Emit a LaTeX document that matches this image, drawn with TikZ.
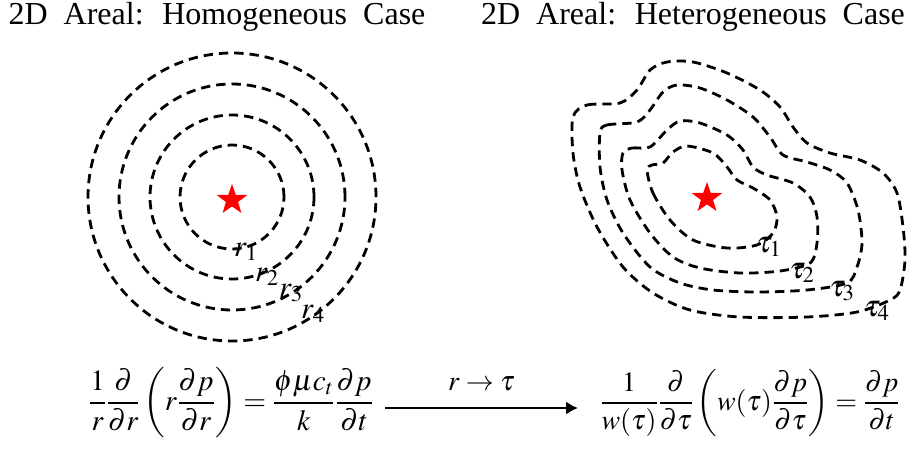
\documentclass[tikz,border=0pt]{standalone}
\usepackage{mathptmx}
\usepackage{fontspec}
\setmainfont{Liberation Serif}
\usetikzlibrary{arrows.meta, shapes.geometric}

\newcommand{\ttlfont}{\fontsize{24}{28}\selectfont\spaceskip=0.5em\relax}
\tikzset{
  contour/.style={dash pattern=on 7pt off 4.5pt, line width=2.1pt},
  src/.style={star, star points=5, star point ratio=2.5, fill=red, inner sep=0pt, minimum size=24pt},
  lbl/.style={font=\fontsize{23}{26}\selectfont, inner sep=0pt},
  ttl/.style={font=\ttlfont, inner sep=0pt},
  eqn/.style={font=\fontsize{21}{25}\selectfont, inner sep=0pt}
}

\begin{document}
\begin{tikzpicture}[x=0.75pt, y=-0.75pt]
  \useasboundingbox (0,0) rectangle (912,450);

  % titles
  \node[ttl] (titleL) at (217,17) {2D Areal: Homogeneous Case};
  \node[ttl] (titleR) at (693,17) {2D Areal: Heterogeneous Case};

  % homogeneous: circles round the well
  \coordinate (c1) at (232,197);
  \node[src] (src1) at (232,200) {};
  \foreach \r in {39pt,61.5pt,84.75pt,108pt} {
    \draw[contour] (c1) circle[radius=\r];
  }
  \foreach \x/\y/\i in {246/252/1,267/277/2,291/293/3,313/314/4} {
    \node[lbl] (r\i) at (\x,\y) {$r_{\i}$};
  }

  % heterogeneous: irregular fronts
  \node[src] (src2) at (707,198) {};
  \draw[contour] plot[smooth cycle] coordinates {(647,170) (653,193) (670,220) (693,240) (727,248) (757,245) (773,233) (777,217) (770,200) (753,188) (737,180) (727,167) (713,153) (687,146) (673,152) (663,163) (652,165)};
  \draw[contour] plot[smooth cycle] coordinates {(623,153) (632,148) (650,147) (667,130) (680,121) (700,123) (727,135) (743,150) (753,167) (767,175) (793,183) (810,197) (817,217) (817,243) (810,263) (780,271) (740,273) (700,268) (673,257) (650,233) (630,200) (622,170)};
  \draw[contour] plot[smooth cycle] coordinates {(600,133) (607,125) (637,122) (650,110) (663,92) (677,85) (700,88) (727,100) (753,117) (770,137) (783,155) (807,162) (830,170) (847,183) (858,210) (862,243) (857,267) (847,283) (807,290) (757,292) (713,290) (680,283) (650,267) (623,233) (607,200) (600,167)};
  \draw[contour] plot[smooth cycle] coordinates {(573,117) (587,105) (620,103) (637,90) (650,70) (667,62) (693,62) (727,73) (760,90) (780,107) (793,127) (807,143) (830,153) (860,160) (883,173) (897,193) (903,227) (905,260) (900,290) (890,300) (857,312) (807,317) (740,317) (690,310) (653,293) (623,267) (597,227) (580,187) (573,153)};
  \foreach \x/\y/\i in {769/247/1,802/273/2,842/291/3,877/311/4} {
    \node[lbl] (t\i) at (\x,\y) {$\tau_{\i}$};
  }

  % equations and the mapping
  \node[eqn, font=\fontsize{22}{26}\selectfont] (eqL) at (231,403) {$\displaystyle \frac{1}{r}\frac{\partial}{\partial r}\left(r\frac{\partial p}{\partial r}\right)=\frac{\phi\mu c_t}{k}\frac{\partial p}{\partial t}$};
  \node[eqn] (eqR) at (750,403) {$\displaystyle \frac{1}{w(\tau)}\frac{\partial}{\partial\tau}\left(w(\tau)\frac{\partial p}{\partial\tau}\right)=\frac{\partial p}{\partial t}$};
  \coordinate (a0) at (385,408);
  \coordinate (a1) at (578,408);
  \draw[-{Latex[length=9pt,width=10pt]}, line width=1.8pt] (a0) -- node[eqn, above=12pt] (map) {$r\rightarrow\tau$} (a1);
\end{tikzpicture}
\end{document}
